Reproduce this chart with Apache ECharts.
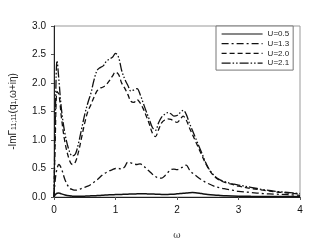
<!DOCTYPE html>
<html><head><meta charset="utf-8">
<script src="https://cdn.jsdelivr.net/npm/echarts@6/dist/echarts.min.js"></script>
<style>html,body{margin:0;padding:0;background:#fff}#c{width:314px;height:245px}</style>
</head><body><div id="c"></div>
<script>
var omega = [0,0.02,0.05,0.08,0.12,0.18,0.25,0.3,0.35,0.4,0.45,0.5,0.55,0.6,0.65,0.7,0.75,0.8,0.85,0.9,0.95,1.0,1.05,1.1,1.15,1.2,1.25,1.3,1.35,1.4,1.45,1.5,1.55,1.6,1.65,1.7,1.75,1.8,1.85,1.9,1.95,2.0,2.05,2.1,2.15,2.2,2.25,2.3,2.4,2.5,2.6,2.7,2.8,2.9,3.0,3.2,3.4,3.6,3.8,4.0];
var u05 = [0,0.04,0.065,0.07,0.055,0.035,0.02,0.015,0.012,0.012,0.013,0.015,0.017,0.02,0.022,0.025,0.028,0.032,0.035,0.038,0.04,0.042,0.044,0.046,0.048,0.05,0.052,0.054,0.055,0.056,0.056,0.055,0.054,0.052,0.05,0.048,0.046,0.045,0.045,0.047,0.05,0.055,0.06,0.065,0.07,0.075,0.078,0.075,0.06,0.045,0.035,0.028,0.022,0.018,0.015,0.012,0.01,0.008,0.007,0.006];
var u13 = [0,0.3,0.5,0.57,0.5,0.3,0.16,0.13,0.12,0.13,0.15,0.17,0.19,0.22,0.26,0.3,0.35,0.4,0.43,0.46,0.48,0.5,0.5,0.49,0.53,0.61,0.6,0.58,0.57,0.58,0.55,0.5,0.45,0.4,0.36,0.33,0.33,0.37,0.43,0.48,0.49,0.48,0.5,0.53,0.56,0.48,0.42,0.38,0.3,0.24,0.19,0.16,0.14,0.12,0.1,0.08,0.06,0.05,0.04,0.03];
var u20 = [0,1.0,1.85,1.8,1.4,0.95,0.65,0.57,0.62,0.8,1.05,1.3,1.5,1.62,1.75,1.86,1.91,1.93,1.97,2.04,2.12,2.19,2.15,2.0,1.91,1.8,1.68,1.66,1.71,1.65,1.55,1.42,1.28,1.12,1.06,1.18,1.3,1.35,1.37,1.36,1.33,1.31,1.36,1.42,1.35,1.22,1.1,0.98,0.74,0.52,0.37,0.29,0.25,0.22,0.19,0.15,0.12,0.09,0.07,0.05];
var u21 = [0,1.3,2.39,2.05,1.55,1.1,0.8,0.72,0.76,0.95,1.2,1.45,1.65,1.82,2.05,2.22,2.27,2.3,2.38,2.42,2.45,2.52,2.45,2.22,2.07,1.96,1.86,1.88,1.9,1.8,1.65,1.5,1.36,1.22,1.17,1.3,1.4,1.45,1.48,1.46,1.42,1.43,1.48,1.52,1.45,1.3,1.17,1.04,0.78,0.53,0.38,0.3,0.26,0.23,0.21,0.17,0.13,0.1,0.08,0.06];
var seriesNames = ['U=0.5','U=1.3','U=2.0','U=2.1'];
var xTicks = [0,1,2,3,4];
var yTicks = [0,0.5,1,1.5,2,2.5,3];

function pairs(ys){ return omega.map(function(x,i){ return [x, ys[i]]; }); }
var dashes = [null, [7,3,2,3], [5,3], [9,2,1.5,2,1.5,2]];
var vals = [u05,u13,u20,u21];
var series = vals.map(function(v,i){
  return {
    name: seriesNames[i], type:'line', data: pairs(v), symbol:'none', smooth:0.35,
    lineStyle:{color:'#111', width: i===0?1.5:1.3, type: dashes[i] || 'solid'},
    itemStyle:{color:'#111'}
  };
});
var chart = echarts.init(document.getElementById('c'), null, {renderer:'canvas'});
chart.setOption({
  animation:false,
  backgroundColor:'#fff',
  grid:{left:48, right:14, top:26, bottom:43, show:true, borderColor:'#999', borderWidth:1, backgroundColor:'transparent'},
  legend:{
    orient:'vertical', left:216, top:26, itemWidth:41, itemHeight:10, itemGap:1.7,
    padding:[4,4,3,5], backgroundColor:'#fff', borderColor:'#777', borderWidth:1, borderRadius:0,
    itemTextGap:9,
    itemStyle:{opacity:0},
    lineStyle:{width:1.2},
    textStyle:{fontFamily:'Liberation Sans, Arial', fontSize:8, color:'#222'},
    data: seriesNames
  },
  xAxis:{
    type:'value', min:0, max:4, interval:1,
    name:'ω', nameLocation:'middle', nameGap:34,
    nameTextStyle:{fontFamily:'DejaVu Serif, serif', fontSize:9, color:'#333'},
    axisLine:{lineStyle:{color:'#222', width:1}},
    axisTick:{show:true, length:3, inside:false, lineStyle:{color:'#555'}},
    axisLabel:{margin:8, fontFamily:'Liberation Sans, Arial', fontSize:10, color:'#111',
      formatter:function(v){ return xTicks.indexOf(v)>=0 ? String(v) : ''; }},
    splitLine:{show:false}
  },
  yAxis:{
    type:'value', min:0, max:3, interval:0.5,
    name:'{a|-ImΓ}{s|11;11}{a|(q}{s|1}{a|,ω+iη)}', nameLocation:'middle', nameGap:36, nameRotate:90,
    nameTextStyle:{rich:{
      a:{fontFamily:'Liberation Sans, Arial', fontSize:10, color:'#222', verticalAlign:'bottom', lineHeight:13},
      s:{fontFamily:'Liberation Sans, Arial', fontSize:7, color:'#222', verticalAlign:'bottom', lineHeight:9}
    }},
    axisLine:{show:true, lineStyle:{color:'#222', width:1}},
    axisTick:{show:true, length:3, lineStyle:{color:'#555'}},
    axisLabel:{margin:8, fontFamily:'Liberation Sans, Arial', fontSize:10, color:'#111',
      formatter:function(v){ return v.toFixed(1); }},
    splitLine:{show:false}
  },
  series: series
});
</script></body></html>
